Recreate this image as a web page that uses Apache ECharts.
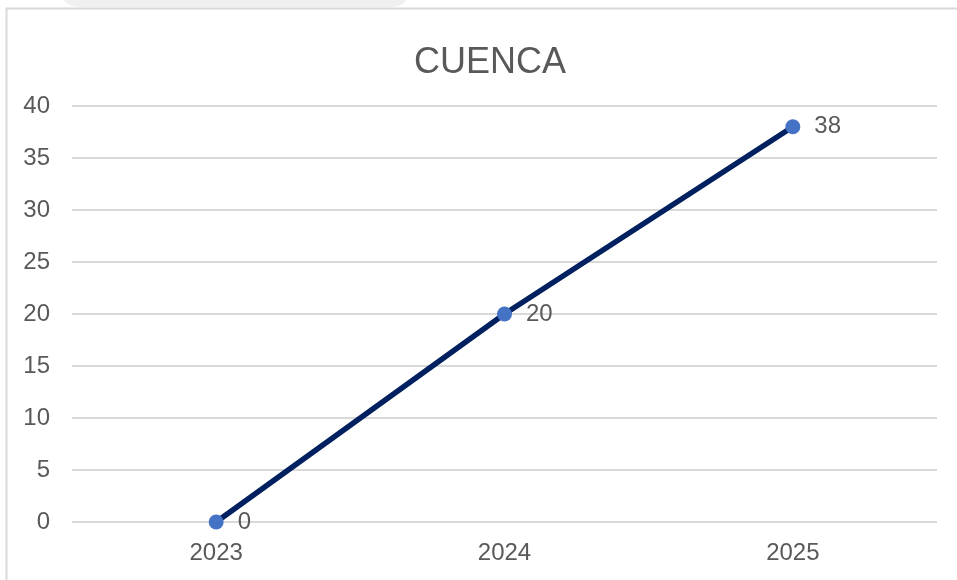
<!DOCTYPE html>
<html>
<head>
<meta charset="utf-8">
<script src="https://cdn.jsdelivr.net/npm/echarts@6/dist/echarts.min.js"></script>
<style>
* {margin: 0; padding: 0;}
#main {width: 957px; height: 580px; background: #fff;}
</style>
</head>
<body>
<div id="main"></div>
<script>
const YEARS = ['2023', '2024', '2025'];
const CUENCA = [0, 20, 38];
const TITLE = 'CUENCA';

const FONT = 'Liberation Sans';
const chart = echarts.init(document.getElementById('main'));
chart.setOption({
    animation: false,
    textStyle: {fontFamily: FONT},
    title: {
        text: TITLE,
        left: 409,
        top: 40,
        textStyle: {fontSize: 36, fontWeight: 'normal', color: '#595959', fontFamily: FONT}
    },
    graphic: [
        {
            type: 'rect',
            shape: {x: 60, y: -30, width: 350, height: 37, r: 18},
            style: {fill: '#f0f0f0'},
            silent: true
        },
        {
            type: 'rect',
            shape: {x: 6.5, y: 8.5, width: 960, height: 600},
            style: {fill: 'none', stroke: '#d9d9d9', lineWidth: 2},
            silent: true
        }
    ],
    grid: {left: 72, right: 20, top: 106, bottom: 58},
    xAxis: {
        type: 'category',
        data: YEARS,
        axisLine: {show: false},
        axisTick: {show: false},
        axisLabel: {fontSize: 24, color: '#595959', margin: 19}
    },
    yAxis: {
        type: 'value',
        min: 0,
        max: 40,
        interval: 5,
        axisLabel: {fontSize: 24, color: '#595959', margin: 22},
        splitLine: {lineStyle: {color: '#d9d9d9', width: 2}}
    },
    series: [{
        type: 'line',
        data: CUENCA,
        symbol: 'circle',
        symbolSize: 15,
        lineStyle: {color: '#002060', width: 5.5},
        itemStyle: {color: '#4472C4'},
        label: {
            show: true,
            position: 'right',
            distance: 14,
            fontSize: 24,
            color: '#595959'
        }
    }]
});
</script>
</body>
</html>
